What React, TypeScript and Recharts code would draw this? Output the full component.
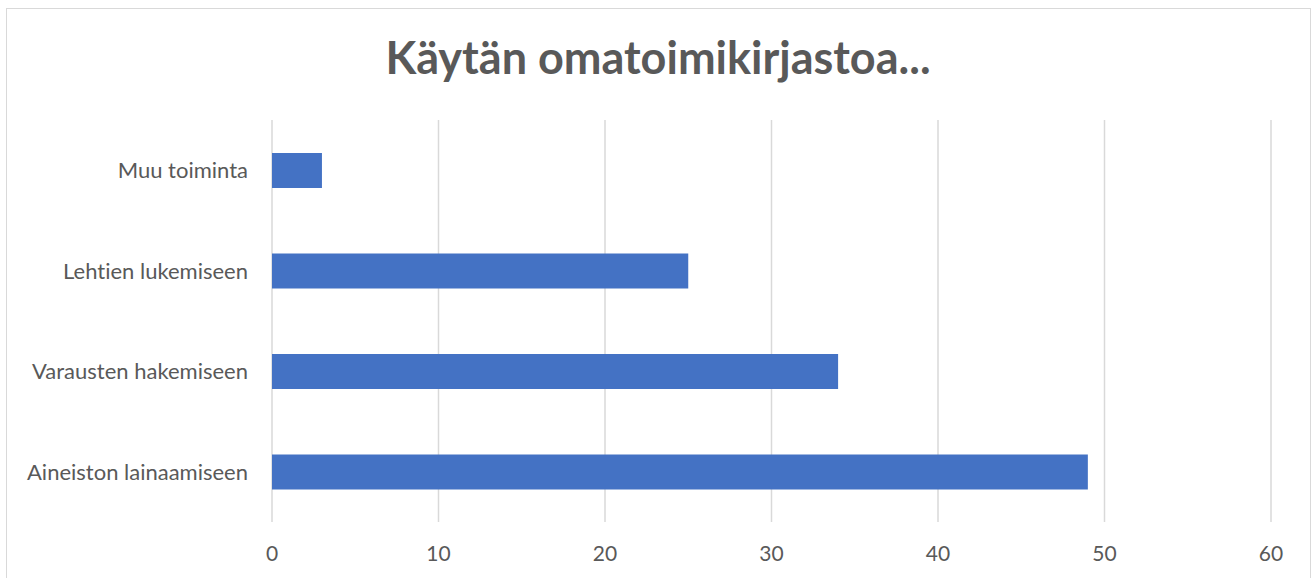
import React from "react";
import { BarChart, Bar, XAxis, YAxis, CartesianGrid } from "recharts";

const categories = ["Muu toiminta", "Lehtien lukemiseen", "Varausten hakemiseen", "Aineiston lainaamiseen"];
const values = [3, 25, 34, 49];
const xTicks = [0, 10, 20, 30, 40, 50, 60];
const title = "Käytän omatoimikirjastoa...";

const data = categories.map((name, i) => ({ name, value: values[i] }));

const FONT = "Lato, 'Open Sans', sans-serif";
const TEXT = "#595959";

export default function App() {
  return (
    <div style={{ position: "absolute", left: 0, top: 0, width: 1314, height: 578, overflow: "hidden", background: "#fff" }}>
      <style>{`text, div { font-variant-ligatures: none; }`}</style>
      <div
        style={{
          position: "absolute",
          left: 6,
          top: 8,
          width: 1305,
          height: 600,
          border: "1px solid #d9d9d9",
          boxSizing: "border-box",
        }}
      />
      <div
        style={{
          position: "absolute",
          left: 0,
          width: 1316,
          top: 32,
          textAlign: "center",
          fontFamily: FONT,
          fontWeight: 700,
          fontSize: 45,
          color: TEXT,
          lineHeight: "50px",
          whiteSpace: "nowrap",
        }}
      >
        {title}
      </div>
      <div style={{ position: "absolute", left: 0, top: 0 }}>
        <BarChart
          width={1314}
          height={578}
          data={data}
          layout="vertical"
          margin={{ top: 120, right: 43, bottom: 26, left: 0 }}
          barSize={35}
        >
          <CartesianGrid horizontal={false} stroke="#d9d9d9" strokeWidth={1.5} />
          <XAxis
            type="number"
            domain={[0, 60]}
            ticks={xTicks}
            axisLine={false}
            tickLine={false}
            tickSize={0}
            tickMargin={24}
            height={30}
            tick={{ fill: TEXT, fontSize: 21, fontFamily: FONT }}
          />
          <YAxis
            type="category"
            dataKey="name"
            width={272}
            axisLine={false}
            tickLine={false}
            tickSize={0}
            tickMargin={24}
            tick={{ fill: TEXT, fontSize: 22, fontFamily: FONT }}
          />
          <Bar dataKey="value" fill="#4472C4" isAnimationActive={false} />
        </BarChart>
      </div>
    </div>
  );
}
